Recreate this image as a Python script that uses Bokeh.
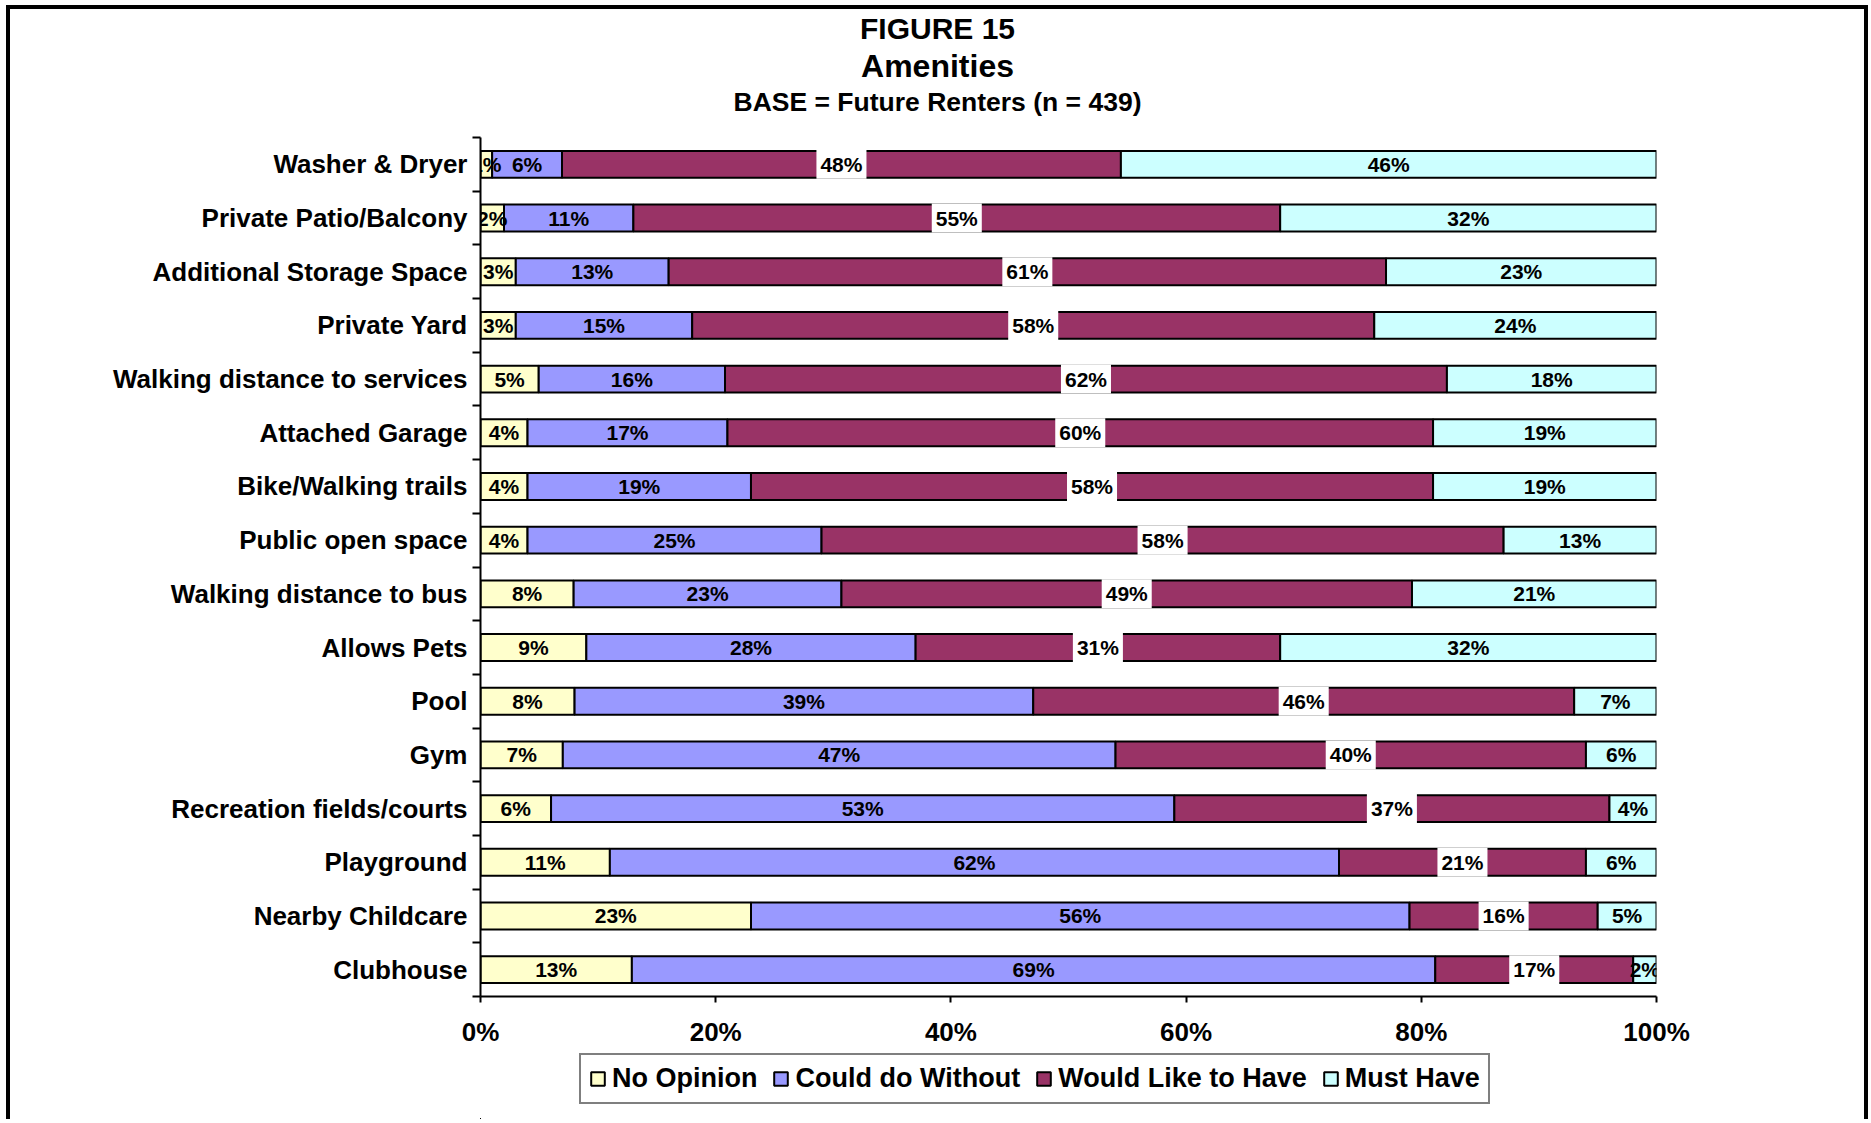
from bokeh.plotting import figure
from bokeh.layouts import column
from bokeh.models import (Range1d, LinearAxis, FixedTicker, Legend, LegendItem,
                          Label, LabelSet, ColumnDataSource)
from bokeh.embed import file_html
from bokeh.resources import INLINE
from bokeh.core.properties import value

# ---------------- data ----------------
categories = ["Washer & Dryer", "Private Patio/Balcony", "Additional Storage Space",
              "Private Yard", "Walking distance to services", "Attached Garage",
              "Bike/Walking trails", "Public open space", "Walking distance to bus",
              "Allows Pets", "Pool", "Gym", "Recreation fields/courts", "Playground",
              "Nearby Childcare", "Clubhouse"]
no_opinion = [1, 2, 3, 3, 5, 4, 4, 4, 8, 9, 8, 7, 6, 11, 23, 13]
could_do_without = [6, 11, 13, 15, 16, 17, 19, 25, 23, 28, 39, 47, 53, 62, 56, 69]
would_like_to_have = [48, 55, 61, 58, 62, 60, 58, 58, 49, 31, 46, 40, 37, 21, 16, 17]
must_have = [46, 32, 23, 24, 18, 19, 19, 13, 21, 32, 7, 6, 4, 6, 5, 2]
series_names = ["No Opinion", "Could do Without", "Would Like to Have", "Must Have"]
series_colors = ["#FFFFCC", "#9999FF", "#993366", "#CCFFFF"]
x_ticks = [0, 20, 40, 60, 80, 100]
title_lines = ["FIGURE 15", "Amenities", "BASE = Future Renters (n = 439)"]

FONT = "Liberation Sans"
series = [no_opinion, could_do_without, would_like_to_have, must_have]
n = len(categories)
ypos = [n - i - 0.5 for i in range(n)]  # first category at top

# 100% stacked: normalise each row
totals = [sum(vals) for vals in zip(*series)]
data = {"y": ypos}
cum = [0.0] * n
for k, vals in enumerate(series):
    lefts, rights, centers, texts = [], [], [], []
    for i, v in enumerate(vals):
        l = cum[i]
        r = l + v * 100.0 / totals[i]
        lefts.append(l)
        rights.append(r)
        centers.append((l + r) / 2)
        texts.append(f"{v}%")
        cum[i] = r
    data[f"l{k}"] = lefts
    data[f"r{k}"] = rights
    data[f"c{k}"] = centers
    data[f"t{k}"] = texts
src = ColumnDataSource(data)

# ---------------- layout (pixels) ----------------
W = 1854
HH = 118            # header (titles)
FRAME_W, FRAME_H = 1176, 859
BL, BT, BB = 470, 10, 56
HM = BT + FRAME_H + BB
LH = 67             # legend strip
FRAME_LEFT_PAGE = 480          # page x of 0%
ORIGIN_Y = 9                   # page y of the content origin


def bare_figure(h, x_range, y_range):
    # frames of the stacked figures are aligned with the main chart's frame
    f = figure(width=W, height=h, x_range=x_range, y_range=y_range,
               output_backend="svg", toolbar_location=None,
               x_axis_location=None, y_axis_location=None, title=None,
               min_border_left=BL, min_border_right=W - BL - FRAME_W,
               min_border_top=0, min_border_bottom=0)
    f.outline_line_color = None
    f.grid.visible = False
    return f


# ---------- header with the three title lines ----------
header = bare_figure(HH, Range1d(0, 100), Range1d(0, HH))
title_centers_page = [27.5, 65, 101.5]
title_sizes = ["30px", "32px", "26.5px"]
title_x = 100.0 * (937 - FRAME_LEFT_PAGE) / FRAME_W
for txt, cy, sz in zip(title_lines, title_centers_page, title_sizes):
    header.add_layout(Label(x=title_x, y=HH - (cy - ORIGIN_Y), text=txt,
                            text_align="center", text_baseline="middle",
                            text_font=FONT, text_font_style="bold",
                            text_font_size=sz, text_color="black"))

# ---------- main chart ----------
p = figure(width=W, height=HM,
           y_range=Range1d(0, n), x_range=Range1d(0, 100),
           output_backend="svg", toolbar_location=None,
           x_axis_location=None, y_axis_location=None, title=None,
           min_border_left=BL, min_border_right=W - BL - FRAME_W,
           min_border_top=BT, min_border_bottom=BB)
p.outline_line_color = None
p.grid.visible = False

renderers = []
for k in range(4):
    r = p.hbar(y="y", left=f"l{k}", right=f"r{k}", height=0.5, source=src,
               fill_color=series_colors[k], line_color="black", line_width=2)
    renderers.append(r)

for k in range(4):
    if k == 2:
        p.text(x=f"c{k}", y="y", text=f"t{k}", source=src,
               text_align="center", text_baseline="middle",
               text_font=value(FONT), text_font_style="bold",
               text_font_size="21px", text_color="black",
               background_fill_color="white", padding=(4, 3))
    else:
        p.add_layout(LabelSet(x=f"c{k}", y="y", text=f"t{k}", source=src,
                              text_align="center", text_baseline="middle",
                              text_font=value(FONT), text_font_style="bold",
                              text_font_size="21px", text_color="black"))

# x axis
xaxis = LinearAxis(ticker=FixedTicker(ticks=x_ticks),
                   major_label_overrides={t: f"{t}%" for t in x_ticks})
xaxis.axis_line_color = "black"
xaxis.axis_line_width = 2
xaxis.major_tick_line_color = "black"
xaxis.major_tick_line_width = 2
xaxis.major_tick_out = 6
xaxis.major_tick_in = 0
xaxis.minor_tick_line_color = None
xaxis.major_label_standoff = 14
xaxis.major_label_text_font = FONT
xaxis.major_label_text_font_style = "bold"
xaxis.major_label_text_font_size = "26px"
xaxis.major_label_text_color = "black"
p.add_layout(xaxis, "below")

# y axis: ticks at category boundaries (no labels)
bounds = list(range(n + 1))
ytick_axis = LinearAxis(ticker=FixedTicker(ticks=bounds),
                        major_label_overrides={b: "" for b in bounds})
ytick_axis.axis_line_color = "black"
ytick_axis.axis_line_width = 2
ytick_axis.major_tick_line_color = "black"
ytick_axis.major_tick_line_width = 2
ytick_axis.major_tick_out = 8
ytick_axis.major_tick_in = 0
ytick_axis.minor_tick_line_color = None
ytick_axis.major_label_standoff = 0
ytick_axis.major_label_text_font_size = "1px"
p.add_layout(ytick_axis, "left")

# y axis: category names centred on the bars
cat_axis = LinearAxis(ticker=FixedTicker(ticks=ypos),
                      major_label_overrides={y: c for y, c in zip(ypos, categories)})
cat_axis.axis_line_color = None
cat_axis.major_tick_line_color = None
cat_axis.minor_tick_line_color = None
cat_axis.major_tick_out = 0
cat_axis.major_tick_in = 0
cat_axis.major_label_standoff = 5
cat_axis.major_label_text_font = FONT
cat_axis.major_label_text_font_style = "bold"
cat_axis.major_label_text_font_size = "26px"
cat_axis.major_label_text_color = "black"
p.add_layout(cat_axis, "left")

# ---------- legend strip ----------
# same bars as the chart, but this strip's ranges lie far away from them,
# so only the legend is visible here
lf = bare_figure(LH, Range1d(1000, 1100), Range1d(n + 100, n + 101))
legend_renderers = [lf.hbar(y="y", left=f"l{k}", right=f"r{k}", height=0.5, source=src,
                            fill_color=series_colors[k], line_color="black", line_width=2)
                    for k in range(4)]
legend = Legend(items=[LegendItem(label=nm, renderers=[r])
                       for nm, r in zip(series_names, legend_renderers)],
                orientation="horizontal", location=(579 - FRAME_LEFT_PAGE, 15))
legend.border_line_color = "black"
legend.border_line_width = 2
legend.background_fill_color = "white"
legend.background_fill_alpha = 1.0
legend.label_text_font = FONT
legend.label_text_font_style = "bold"
legend.label_text_font_size = "27px"
legend.label_text_color = "black"
legend.glyph_width = 17
legend.glyph_height = 17
legend.label_standoff = 6
legend.spacing = 15
legend.padding = 8
legend.margin = 0
lf.add_layout(legend)

layout = column(header, p, lf, spacing=0)
layout.styles = {"border-top": "4px solid black", "border-left": "4px solid black",
                 "border-right": "4px solid black", "margin-left": "6px", "margin-top": "5px"}

open("out.html", "w").write(file_html(layout, INLINE))
